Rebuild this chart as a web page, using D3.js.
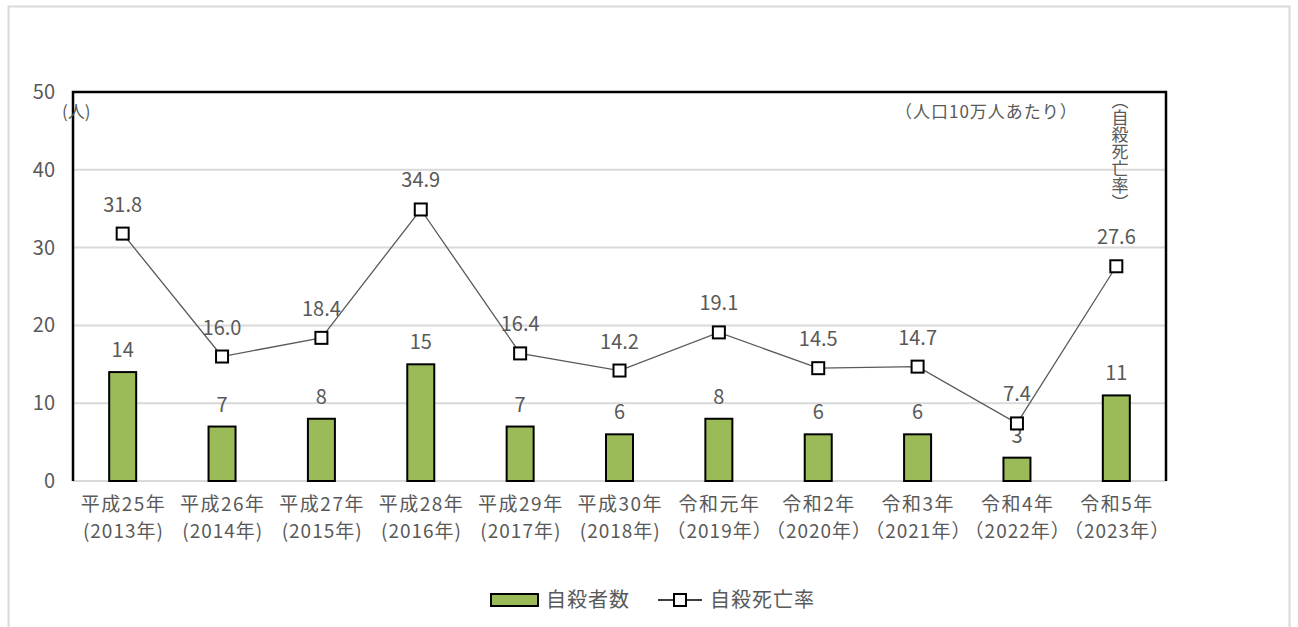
<!DOCTYPE html>
<html>
<head>
<meta charset="utf-8">
<script src="https://cdn.jsdelivr.net/npm/d3@7"></script>
<style>
  body { margin: 0; background: #fff; }
  text { font-family: "Noto Sans CJK JP", "Noto Sans", sans-serif; fill: #595959; }
</style>
</head>
<body>
<svg id="chart" width="1298" height="627"></svg>
<script>
// data
var eraLabels = ["平成25年", "平成26年", "平成27年", "平成28年", "平成29年", "平成30年",
                 "令和元年", "令和2年", "令和3年", "令和4年", "令和5年"];
var yearLabels = ["(2013年)", "(2014年)", "(2015年)", "(2016年)", "(2017年)", "(2018年)",
                  "（2019年）", "（2020年）", "（2021年）", "（2022年）", "（2023年）"];
var suicides = [14, 7, 8, 15, 7, 6, 8, 6, 6, 3, 11];
var rates = [31.8, 16.0, 18.4, 34.9, 16.4, 14.2, 19.1, 14.5, 14.7, 7.4, 27.6];
var yTicks = [0, 10, 20, 30, 40, 50];

var svg = d3.select("#chart");
var fs = 20;

// outer frame
svg.append("rect")
    .attr("x", 8.5).attr("y", 6.5)
    .attr("width", 1281).attr("height", 640)
    .attr("fill", "none")
    .attr("stroke", "#d9d9d9")
    .attr("stroke-width", 2);

var plotL = 73, plotR = 1166, plotT = 92, plotB = 481;

var x = d3.scaleBand()
    .domain(eraLabels)
    .range([plotL, plotR]);

var y = d3.scaleLinear()
    .domain([0, 50])
    .range([plotB, plotT]);

// gridlines
svg.append("g").selectAll("line")
    .data(yTicks)
    .enter()
    .append("line")
    .attr("x1", plotL).attr("x2", plotR)
    .attr("y1", function (d) { return y(d); })
    .attr("y2", function (d) { return y(d); })
    .attr("stroke", "#d9d9d9")
    .attr("stroke-width", 2);

// y axis labels
var yAxis = d3.axisLeft(y).tickValues(yTicks).tickSize(0).tickPadding(18);
var yg = svg.append("g")
    .attr("transform", "translate(" + plotL + ",0)")
    .call(yAxis);
yg.select(".domain").remove();
yg.selectAll("text")
    .attr("font-size", fs)
    .attr("fill", "#595959")
    .style("font-family", "'Noto Sans CJK JP', sans-serif");

// plot border: top, left, right in black
svg.append("path")
    .attr("d", "M" + plotL + "," + plotB + "V" + plotT + "H" + plotR + "V" + plotB)
    .attr("fill", "none")
    .attr("stroke", "black")
    .attr("stroke-width", 2.5);

// bars
var barW = 27;
svg.append("g").selectAll("rect")
    .data(suicides)
    .enter()
    .append("rect")
    .attr("x", function (d, i) { return x(eraLabels[i]) + x.bandwidth() / 2 - barW / 2; })
    .attr("y", function (d) { return y(d); })
    .attr("width", barW)
    .attr("height", function (d) { return plotB - y(d); })
    .attr("fill", "#9bbb59")
    .attr("stroke", "black")
    .attr("stroke-width", 2);

// bar labels
svg.append("g").selectAll("text")
    .data(suicides)
    .enter()
    .append("text")
    .attr("x", function (d, i) { return x(eraLabels[i]) + x.bandwidth() / 2; })
    .attr("y", function (d) { return y(d) - 15; })
    .attr("text-anchor", "middle")
    .attr("font-size", fs)
    .text(function (d) { return d; });

// rate line
var line = d3.line()
    .x(function (d, i) { return x(eraLabels[i]) + x.bandwidth() / 2; })
    .y(function (d) { return y(d); });

svg.append("path")
    .datum(rates)
    .attr("d", line)
    .attr("fill", "none")
    .attr("stroke", "#595959")
    .attr("stroke-width", 1.3);

var mk = 12;
svg.append("g").selectAll("rect")
    .data(rates)
    .enter()
    .append("rect")
    .attr("x", function (d, i) { return x(eraLabels[i]) + x.bandwidth() / 2 - mk / 2; })
    .attr("y", function (d) { return y(d) - mk / 2; })
    .attr("width", mk)
    .attr("height", mk)
    .attr("fill", "white")
    .attr("stroke", "black")
    .attr("stroke-width", 2);

svg.append("g").selectAll("text")
    .data(rates)
    .enter()
    .append("text")
    .attr("x", function (d, i) { return x(eraLabels[i]) + x.bandwidth() / 2; })
    .attr("y", function (d) { return y(d) - 22; })
    .attr("text-anchor", "middle")
    .attr("font-size", fs)
    .text(function (d) { return d.toFixed(1); });

// x labels, two lines each
var xg = svg.append("g");
xg.selectAll("text.era")
    .data(eraLabels)
    .enter()
    .append("text")
    .attr("class", "era")
    .attr("x", function (d) { return x(d) + x.bandwidth() / 2 + 0.75; })
    .attr("y", 511)
    .attr("text-anchor", "middle")
    .attr("font-size", 19)
    .attr("letter-spacing", 1.5)
    .text(function (d) { return d; });
xg.selectAll("text.year")
    .data(yearLabels)
    .enter()
    .append("text")
    .attr("class", "year")
    .attr("x", function (d, i) { return x(eraLabels[i]) + x.bandwidth() / 2 + 0.75; })
    .attr("y", 538)
    .attr("text-anchor", "middle")
    .attr("font-size", 19)
    .attr("letter-spacing", 1)
    .text(function (d) { return d; });

// unit labels
svg.append("text")
    .attr("x", 62).attr("y", 118)
    .attr("font-size", 17)
    .attr("fill", "#404040")
    .text("(人)");

svg.append("text")
    .attr("x", 895).attr("y", 118)
    .attr("font-size", 17)
    .attr("letter-spacing", 1)
    .attr("fill", "#404040")
    .text("（人口10万人あたり）");

svg.append("text")
    .attr("x", 1120).attr("y", 92)
    .attr("font-size", 17)
    .attr("fill", "#262626")
    .style("writing-mode", "vertical-rl")
    .style("text-orientation", "upright")
    .text("（自殺死亡率）");

// legend
var lg = svg.append("g");
lg.append("rect")
    .attr("x", 491).attr("y", 594)
    .attr("width", 47).attr("height", 12)
    .attr("fill", "#9bbb59")
    .attr("stroke", "black")
    .attr("stroke-width", 2);
lg.append("text")
    .attr("x", 546).attr("y", 607)
    .attr("font-size", fs)
    .attr("letter-spacing", 1)
    .text("自殺者数");
lg.append("line")
    .attr("x1", 658).attr("x2", 702)
    .attr("y1", 600).attr("y2", 600)
    .attr("stroke", "black")
    .attr("stroke-width", 1.5);
lg.append("rect")
    .attr("x", 674).attr("y", 594)
    .attr("width", 12).attr("height", 12)
    .attr("fill", "white")
    .attr("stroke", "black")
    .attr("stroke-width", 2);
lg.append("text")
    .attr("x", 710).attr("y", 607)
    .attr("font-size", fs)
    .attr("letter-spacing", 1)
    .text("自殺死亡率");
</script>
</body>
</html>
